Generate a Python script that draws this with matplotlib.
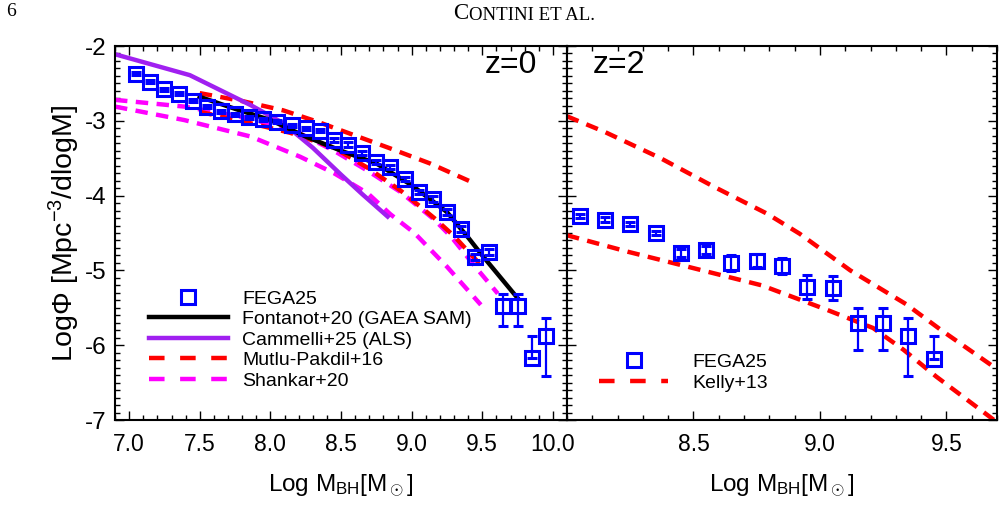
import matplotlib
matplotlib.use("Agg")
import matplotlib.pyplot as plt
from matplotlib.lines import Line2D
from matplotlib.ticker import MultipleLocator, FormatStrFormatter

plt.rcParams['font.family'] = ['Liberation Sans', 'DejaVu Sans']
plt.rcParams['mathtext.fontset'] = 'custom'
plt.rcParams['mathtext.rm'] = 'Liberation Sans'
plt.rcParams['mathtext.it'] = 'Liberation Sans'
plt.rcParams['axes.unicode_minus'] = False

# ---------------- data: z = 0 panel ----------------
fega0_x = [7.05, 7.15, 7.25, 7.35, 7.45, 7.55, 7.65, 7.75, 7.85, 7.95,
           8.05, 8.15, 8.25, 8.35, 8.45, 8.55, 8.65, 8.75, 8.85, 8.95,
           9.05, 9.15, 9.25, 9.35, 9.45, 9.55, 9.65, 9.75, 9.85, 9.95]
fega0_y = [-2.37, -2.48, -2.58, -2.64, -2.73, -2.81, -2.87, -2.91, -2.95, -2.98,
           -3.01, -3.06, -3.10, -3.13, -3.26, -3.32, -3.43, -3.55, -3.62, -3.78,
           -3.95, -4.05, -4.22, -4.44, -4.82, -4.76, -5.48, -5.48, -6.17, -5.88]
fega0_lo = [0.02, 0.02, 0.02, 0.02, 0.02, 0.02, 0.02, 0.02, 0.02, 0.02,
            0.02, 0.02, 0.02, 0.02, 0.03, 0.03, 0.03, 0.03, 0.03, 0.03,
            0.03, 0.04, 0.04, 0.04, 0.04, 0.04, 0.26, 0.26, 0.00, 0.53]
fega0_hi = [0.02, 0.02, 0.02, 0.02, 0.02, 0.02, 0.02, 0.02, 0.02, 0.02,
            0.02, 0.02, 0.02, 0.02, 0.03, 0.03, 0.03, 0.03, 0.03, 0.03,
            0.03, 0.04, 0.04, 0.04, 0.04, 0.04, 0.17, 0.17, 0.29, 0.24]

fontanot_x = [7.5, 7.75, 8.0, 8.25, 8.5, 8.75, 9.0, 9.25, 9.4, 9.5, 9.75]
fontanot_y = [-2.68, -2.84, -2.99, -3.21, -3.40, -3.57, -3.86, -4.22, -4.56, -4.80, -5.37]

cammelli_x = [6.90, 7.43, 7.86, 8.09, 8.30, 8.50, 8.65, 8.83]
cammelli_y = [-2.11, -2.39, -2.79, -3.03, -3.36, -3.72, -3.98, -4.28]

mutlu_up_x = [7.50, 7.81, 8.09, 8.33, 8.59, 8.85, 9.13, 9.45]
mutlu_up_y = [-2.63, -2.74, -2.86, -3.01, -3.19, -3.37, -3.57, -3.84]
mutlu_lo_x = [7.50, 7.81, 8.14, 8.45, 8.69, 8.92, 9.16, 9.30, 9.50]
mutlu_lo_y = [-2.88, -3.01, -3.16, -3.36, -3.63, -3.93, -4.30, -4.54, -4.95]

shankar_up_x = [6.90, 7.39, 7.86, 8.21, 8.45, 8.69, 8.92, 9.16, 9.28, 9.45, 9.61]
shankar_up_y = [-2.72, -2.81, -2.97, -3.17, -3.40, -3.67, -3.95, -4.32, -4.55, -4.95, -5.31]
shankar_lo_x = [6.90, 7.39, 7.86, 8.21, 8.45, 8.69, 8.85, 9.02, 9.25, 9.49]
shankar_lo_y = [-2.81, -2.99, -3.21, -3.48, -3.70, -3.97, -4.25, -4.50, -4.95, -5.46]

# ---------------- data: z = 2 panel ----------------
fega2_x = [8.05, 8.15, 8.25, 8.35, 8.45, 8.55, 8.65, 8.75, 8.85, 8.95,
           9.05, 9.15, 9.25, 9.35, 9.45]
fega2_y = [-4.27, -4.32, -4.38, -4.50, -4.77, -4.73, -4.90, -4.87, -4.94, -5.22,
           -5.23, -5.70, -5.70, -5.88, -6.18]
fega2_lo = [0.03, 0.03, 0.03, 0.03, 0.05, 0.05, 0.11, 0.09, 0.11, 0.16,
            0.16, 0.37, 0.37, 0.53, 0.00]
fega2_hi = [0.03, 0.03, 0.03, 0.03, 0.05, 0.05, 0.11, 0.09, 0.11, 0.16,
            0.16, 0.20, 0.20, 0.24, 0.30]

kelly_up_x = [8.0, 8.15, 8.37, 8.58, 8.79, 8.92, 9.12, 9.34, 9.48, 9.70]
kelly_up_y = [-2.94, -3.15, -3.50, -3.88, -4.24, -4.51, -5.00, -5.45, -5.80, -6.32]
kelly_lo_x = [8.0, 8.24, 8.50, 8.77, 9.03, 9.21, 9.33, 9.46, 9.70]
kelly_lo_y = [-4.53, -4.75, -4.97, -5.20, -5.53, -5.77, -6.06, -6.42, -7.03]

x_ticks_left = [7.0, 7.5, 8.0, 8.5, 9.0, 9.5, 10.0]
x_ticks_right = [8.5, 9.0, 9.5]
y_ticks = [-7, -6, -5, -4, -3, -2]

# ---------------- style ----------------
BLUE = '#0000ff'
RED = '#ff0000'
MAG = '#ff00ff'
PURP = '#a020f0'
LW = 3.2
DASH = (0, (2.8, 1.9))
TICK_FS = 16.5
LAB_FS = 17.5
LEG_FS = 14

W, H = 1004, 511
fig = plt.figure(figsize=(W / 100, H / 100), dpi=100)
ax1 = fig.add_axes([115 / W, 91 / H, 452 / W, 374 / H])
ax2 = fig.add_axes([567 / W, 91 / H, 430 / W, 374 / H])


def style_axes(ax, xlim, xticks, show_ylabels):
    ax.set_xlim(*xlim)
    ax.set_ylim(-7.0, -2.0)
    ax.set_xticks(xticks)
    ax.xaxis.set_major_formatter(FormatStrFormatter('%.1f'))
    ax.set_yticks(y_ticks)
    ax.xaxis.set_minor_locator(MultipleLocator(0.1))
    ax.yaxis.set_minor_locator(MultipleLocator(0.1))
    ax.tick_params(which='both', direction='in', top=True, right=True,
                   labelsize=TICK_FS, width=1.0)
    ax.tick_params(which='major', length=6.5)
    ax.tick_params(which='minor', length=3.5)
    ax.tick_params(axis='x', pad=9)
    ax.tick_params(axis='y', pad=6, labelsize=17.5)
    if not show_ylabels:
        ax.tick_params(axis='y', labelleft=False)
    for s in ax.spines.values():
        s.set_linewidth(1.5)
    ax.set_xlabel(r'Log M$_{\rm BH}$[M$_\odot$]', fontsize=LAB_FS, labelpad=12)


# ---- left panel ----
ax1.plot(shankar_up_x, shankar_up_y, color=MAG, lw=LW, ls=DASH)
ax1.plot(shankar_lo_x, shankar_lo_y, color=MAG, lw=LW, ls=DASH)
ax1.plot(mutlu_up_x, mutlu_up_y, color=RED, lw=LW, ls=DASH)
ax1.plot(mutlu_lo_x, mutlu_lo_y, color=RED, lw=LW, ls=DASH)
ax1.plot(cammelli_x, cammelli_y, color=PURP, lw=LW)
ax1.plot(fontanot_x, fontanot_y, color='black', lw=LW)
ax1.errorbar(fega0_x, fega0_y, yerr=[fega0_lo, fega0_hi], fmt='s', ms=9.5,
             mfc='none', mec=BLUE, mew=2.2, ecolor=BLUE, elinewidth=1.6,
             capsize=3.6, capthick=1.6)
style_axes(ax1, (6.9, 10.1), x_ticks_left, True)
ax1.set_ylabel(r'Log$\Phi$ [Mpc$^{-3}$/dlogM]', fontsize=20.5)
ax1.yaxis.set_label_coords(-0.074, 0.5)
ax1.text(0.935, 0.99, 'z=0', transform=ax1.transAxes, fontsize=23,
         ha='right', va='top')

h_fega = Line2D([], [], ls='none', marker='s', ms=9.5, mfc='none', mec=BLUE, mew=2.2)
h_font = Line2D([], [], color='black', lw=LW)
h_cam = Line2D([], [], color=PURP, lw=LW)
h_mut = Line2D([], [], color=RED, lw=LW, ls=(0, (3.5, 3.5)))
h_sha = Line2D([], [], color=MAG, lw=LW, ls=(0, (3.5, 3.5)))
ax1.legend([h_fega, h_font, h_cam, h_mut, h_sha],
           ['FEGA25', 'Fontanot+20 (GAEA SAM)', 'Cammelli+25 (ALS)',
            'Mutlu-Pakdil+16', 'Shankar+20'],
           loc='upper left', bbox_to_anchor=(149 / W, 1 - 290 / H),
           bbox_transform=fig.transFigure, frameon=False, fontsize=LEG_FS,
           borderpad=0, borderaxespad=0, labelspacing=0.15,
           handlelength=4.05, handletextpad=0.75)

# ---- right panel ----
ax2.plot(kelly_up_x, kelly_up_y, color=RED, lw=LW, ls=DASH)
ax2.plot(kelly_lo_x, kelly_lo_y, color=RED, lw=LW, ls=DASH)
ax2.errorbar(fega2_x, fega2_y, yerr=[fega2_lo, fega2_hi], fmt='s', ms=9.5,
             mfc='none', mec=BLUE, mew=2.2, ecolor=BLUE, elinewidth=1.6,
             capsize=3.6, capthick=1.6)
style_axes(ax2, (8.0, 9.7), x_ticks_right, False)
ax2.text(0.06, 0.99, 'z=2', transform=ax2.transAxes, fontsize=23,
         ha='left', va='top')
h_kel = Line2D([], [], color=RED, lw=LW, ls=(0, (3.5, 3.5)))
ax2.legend([h_fega, h_kel], ['FEGA25', 'Kelly+13'],
           loc='upper left', bbox_to_anchor=(599 / W, 1 - 353 / H),
           bbox_transform=fig.transFigure, frameon=False, fontsize=LEG_FS,
           borderpad=0, borderaxespad=0, labelspacing=0.19,
           handlelength=3.55, handletextpad=1.25)

# ---- page header ----
fig.text(6 / W, 1 - 12 / H, '6', family='Liberation Serif', fontsize=14,
         va='center', ha='left')
t1 = fig.text(453 / W, 1 - 19 / H, 'C', family='Liberation Serif', fontsize=16.5,
              va='baseline', ha='left')
ax1.annotate('ONTINI ET AL.', xy=(1, 0), xycoords=t1, xytext=(0.6, 0),
             textcoords='offset points', family='Liberation Serif',
             fontsize=13.6, va='bottom', ha='left', annotation_clip=False)

fig.savefig('out.png', dpi=100)
